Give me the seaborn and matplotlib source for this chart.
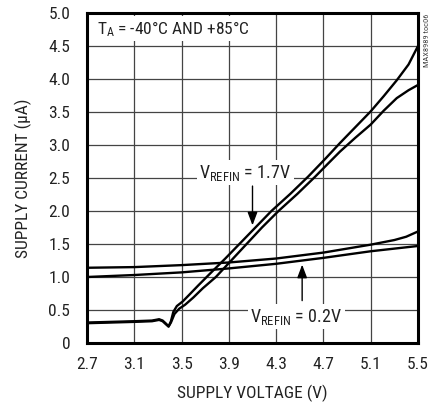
import matplotlib
matplotlib.use("Agg")
import matplotlib.pyplot as plt
import seaborn as sns
from matplotlib import font_manager

# supply voltage (V) and supply current (uA)
v_17a = [2.7, 2.9, 3.1, 3.25, 3.31, 3.34, 3.37, 3.39, 3.41, 3.43, 3.46, 3.51, 3.57, 3.64,
         3.74, 3.87, 4.0, 4.13, 4.26, 4.42, 4.57, 4.71, 4.84, 4.97, 5.1, 5.21, 5.32, 5.42, 5.5]
i_17a = [0.31, 0.32, 0.33, 0.34, 0.36, 0.34, 0.29, 0.25, 0.33, 0.47, 0.56, 0.63, 0.74, 0.87,
         1.05, 1.28, 1.52, 1.76, 2.0, 2.26, 2.52, 2.78, 3.03, 3.27, 3.51, 3.74, 3.98, 4.22, 4.5]
v_17b = [2.7, 2.9, 3.1, 3.25, 3.31, 3.34, 3.37, 3.39, 3.41, 3.44, 3.48, 3.53, 3.60, 3.68,
         3.79, 3.92, 4.05, 4.18, 4.32, 4.48, 4.63, 4.74, 4.84, 4.97, 5.1, 5.21, 5.32, 5.42, 5.5]
i_17b = [0.30, 0.31, 0.32, 0.33, 0.35, 0.33, 0.28, 0.25, 0.31, 0.44, 0.52, 0.58, 0.69, 0.83,
         1.0, 1.25, 1.5, 1.75, 2.0, 2.26, 2.52, 2.72, 2.9, 3.11, 3.31, 3.52, 3.71, 3.83, 3.91]
v_02 = [2.7, 3.1, 3.5, 3.9, 4.3, 4.7, 5.1, 5.3, 5.4, 5.5]
i_02a = [1.14, 1.15, 1.18, 1.22, 1.28, 1.37, 1.49, 1.56, 1.61, 1.69]
i_02b = [1.00, 1.03, 1.07, 1.13, 1.20, 1.29, 1.39, 1.43, 1.45, 1.47]

x_ticks = [2.7, 3.1, 3.5, 3.9, 4.3, 4.7, 5.1, 5.5]
y_ticks = [0, 0.5, 1.0, 1.5, 2.0, 2.5, 3.0, 3.5, 4.0, 4.5, 5.0]
y_labels = ["0", "0.5", "1.0", "1.5", "2.0", "2.5", "3.0", "3.5", "4.0", "4.5", "5.0"]

sns.set_style("white")
# a condensed sans-serif close to the datasheet face
names = {f.name for f in font_manager.fontManager.ttflist}
fam = "DejaVu Sans"
for cand in ["Roboto Condensed", "Archivo Narrow", "PT Sans Narrow", "Liberation Sans Narrow"]:
    if cand in names:
        fam = cand
        break
plt.rcParams["font.family"] = [fam, "DejaVu Sans"]
plt.rcParams["font.stretch"] = "condensed"
plt.rcParams["mathtext.fontset"] = "custom"
plt.rcParams["mathtext.rm"] = fam
plt.rcParams["mathtext.it"] = fam

fig = plt.figure(figsize=(4.41, 4.07), dpi=100)
ax = fig.add_axes([87 / 441, 1 - 343 / 407, 331 / 441, 330 / 407])

for xs, ys in [(v_17a, i_17a), (v_17b, i_17b), (v_02, i_02a), (v_02, i_02b)]:
    sns.lineplot(x=xs, y=ys, ax=ax, color="black", lw=1.7, zorder=3)

ax.set_xlim(2.7, 5.5)
ax.set_ylim(0, 5.0)
ax.set_xticks(x_ticks)
ax.set_xticklabels([f"{t:.1f}" for t in x_ticks])
ax.set_yticks(y_ticks)
ax.set_yticklabels(y_labels)
ax.grid(True, color="#444444", lw=0.9)
ax.tick_params(length=0, labelsize=12.5, colors="#222222")
ax.tick_params(axis="x", pad=10)
ax.tick_params(axis="y", pad=12)
for s in ax.spines.values():
    s.set_linewidth(2.2)
    s.set_color("black")
ax.set_xlabel("SUPPLY VOLTAGE (V)", fontsize=12.5, color="#222222", labelpad=9)
ax.set_ylabel("SUPPLY CURRENT (μA)", fontsize=12.5, color="#222222", labelpad=12)

box = dict(facecolor="white", edgecolor="none", pad=2)
ax.text(2.785, 4.76, r"T$_{\mathrm{A}}$ = -40°C AND +85°C", fontsize=12.5, color="#222222",
        va="center", ha="left", bbox=box, zorder=4)
ax.text(4.04, 2.58, r"V$_{\mathrm{REFIN}}$ = 1.7V", fontsize=13, color="#222222",
        va="center", ha="center", bbox=box, zorder=4)
ax.text(4.47, 0.40, r"V$_{\mathrm{REFIN}}$ = 0.2V", fontsize=13, color="#222222",
        va="center", ha="center", bbox=box, zorder=4)

arrow = dict(arrowstyle="-|>,head_length=0.8,head_width=0.3", color="black", lw=1.0)
ax.annotate("", xy=(4.10, 1.74), xytext=(4.10, 2.42), arrowprops=arrow, zorder=5)
ax.annotate("", xy=(4.52, 1.23), xytext=(4.52, 0.60), arrowprops=arrow, zorder=5)

fig.text(427 / 441, 1 - 14 / 407, "MAX8989 toc06", rotation=90, fontsize=6,
         color="#444444", ha="center", va="top")

fig.savefig("out.png", dpi=100)
